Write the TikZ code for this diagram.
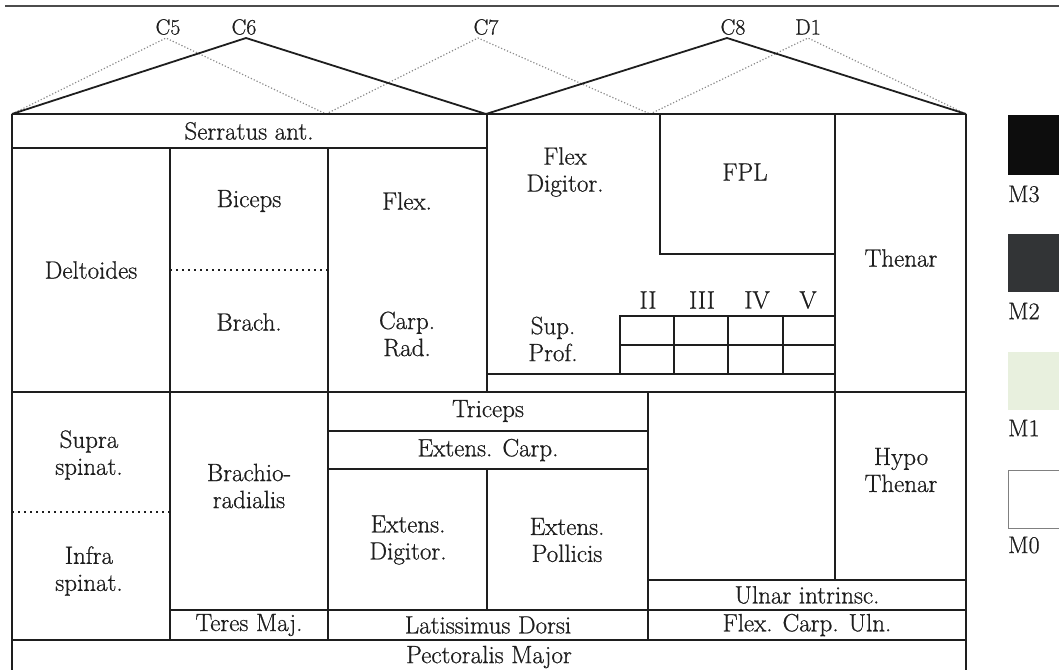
\documentclass[tikz,border=0pt]{standalone}
\usepackage{fontspec}
\newfontfamily\sab{Latin Modern Roman}[RawFeature={embolden=0.7}]
\definecolor{ink}{RGB}{30,30,30}
\definecolor{mone}{RGB}{232,240,222}
\definecolor{mtwo}{RGB}{50,52,54}
\begin{document}
\begin{tikzpicture}[x=1pt,y=-1pt,
  grid/.style={line width=1.7pt, draw=ink},
  dermo/.style={line width=1.2pt, draw=black!45, dotted},
  solidderm/.style={line width=1.8pt, draw=ink},
  split/.style={line width=1.4pt, draw=ink, dash pattern=on 2pt off 4pt},
  lbl/.style={font=\sab\fontsize{25}{27}\selectfont, text=ink, align=center, inner sep=0pt},
  seg/.style={font=\sab\fontsize{22}{24}\selectfont, text=ink, inner sep=0pt},
  leg/.style={font=\sab\fontsize{24}{26}\selectfont, text=ink, inner sep=0pt, anchor=west}]
\useasboundingbox (0,0) rectangle (1059,669);
\clip (0,0) rectangle (1059,669);
\fill[white] (0,0) rectangle (1059,669);
% top rule
\draw[line width=1.5pt, draw=black!70] (5,6) -- (1059,6);
% segment labels
\node[seg] (c5) at (168,27) {C5};
\node[seg] (c6) at (244,27) {C6};
\node[seg] (c7) at (486,27) {C7};
\node[seg] (c8) at (733,27) {C8};
\node[seg] (d1) at (808,27) {D1};
\coordinate (a5) at (166,38);
\coordinate (a6) at (246,38);
\coordinate (a7) at (478,38);
\coordinate (a8) at (727,38);
\coordinate (ad) at (808,38);
\coordinate (b0) at (12,114);
\coordinate (b1) at (326,114);
\coordinate (b2) at (486,114);
\coordinate (b3) at (650,114);
\coordinate (b4) at (966,114);
\draw[dermo] (b0) -- (a5) -- (b1);
\draw[dermo] (b1) -- (a7) -- (b3);
\draw[dermo] (b3) -- (ad) -- (b4);
\draw[solidderm] (b0) -- (a6) -- (b2);
\draw[solidderm] (b2) -- (a8) -- (b4);
% grid
\draw[grid] (12,114) -- (966,114);
\draw[grid] (12,114) -- (12,680);
\draw[grid] (966,114) -- (966,680);
\draw[grid] (12,148) -- (487,148);
\draw[grid] (487,114) -- (487,392);
\draw[grid] (170,148) -- (170,640);
\draw[grid] (328,148) -- (328,640);
\draw[grid] (12,392) -- (966,392);
\draw[grid] (487,374) -- (835,374);
\draw[grid] (835,114) -- (835,580);
\draw[grid] (660,114) -- (660,254) -- (835,254);
\draw[grid] (620,374) -- (620,316) -- (835,316);
\draw[grid] (620,345) -- (835,345);
\draw[grid] (674,316) -- (674,374);
\draw[grid] (728,316) -- (728,374);
\draw[grid] (783,316) -- (783,374);
\draw[grid] (328,431) -- (648,431);
\draw[grid] (328,469) -- (648,469);
\draw[grid] (487,469) -- (487,610);
\draw[grid] (648,392) -- (648,640);
\draw[grid] (648,580) -- (966,580);
\draw[grid] (170,610) -- (966,610);
\draw[grid] (12,640) -- (966,640);
\draw[split] (170,270) -- (328,270);
\draw[split] (12,512) -- (170,512);
% labels
\node[lbl] (serr) at (249,131) {Serratus ant.};
\node[lbl] (delt) at (91,270) {Deltoides};
\node[lbl] (bic) at (249,201) {Biceps};
\node[lbl] (brach) at (249,322) {Brach.};
\node[lbl] (flex) at (407,201) {Flex.};
\node[lbl] (carp) at (407,334) {Carp.\\Rad.};
\node[lbl] (fdig) at (565,172) {Flex\\Digitor.};
\node[lbl] (fpl) at (745,172) {FPL};
\node[lbl] (then) at (901,258) {Thenar};
\node[lbl] (sup) at (553,339) {Sup.\\Prof.};
\node[lbl] (ii) at (648,300) {II};
\node[lbl] (iii) at (702,300) {III};
\node[lbl] (iv) at (757,300) {IV};
\node[lbl] (v) at (808,300) {V};
\node[lbl] (supra) at (89,455) {Supra\\spinat.};
\node[lbl] (infra) at (89,571) {Infra\\spinat.};
\node[lbl] (brr) at (249,486) {Brachio-\\radialis};
\node[lbl] (tri) at (488,411) {Triceps};
\node[lbl] (ecarp) at (488,450) {Extens. Carp.};
\node[lbl] (edig) at (408,540) {Extens.\\Digitor.};
\node[lbl] (epol) at (567,540) {Extens.\\Pollicis};
\node[lbl] (hypo) at (901,470) {Hypo\\Thenar};
\node[lbl] (uln) at (807,595) {Ulnar intrinsc.};
\node[lbl] (fcu) at (807,625) {Flex. Carp. Uln.};
\node[lbl] (lat) at (488,625) {Latissimus Dorsi};
\node[lbl] (teres) at (249,625) {Teres Maj.};
\node[lbl] (pect) at (489,657) {Pectoralis Major};
% legend
\fill[black!95] (1008,115) rectangle (1070,175);
\fill[mtwo] (1008,234) rectangle (1070,292);
\fill[mone] (1008,352) rectangle (1070,410);
\draw[line width=0.8pt, draw=black!50] (1008,470) -- (1008,528) -- (1070,528);
\draw[line width=0.8pt, draw=black!50] (1008,470) -- (1070,470);
\node[leg] (m3) at (1008,194) {M3};
\node[leg] (m2) at (1008,311) {M2};
\node[leg] (m1) at (1008,428) {M1};
\node[leg] (m0) at (1008,545) {M0};
\end{tikzpicture}
\end{document}
